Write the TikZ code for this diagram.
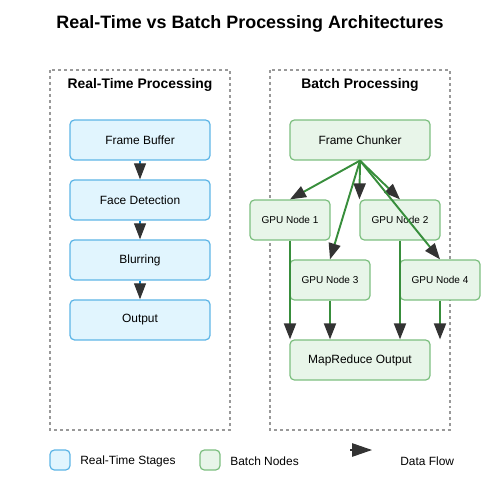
\documentclass[tikz,border=0pt]{standalone}
\usepackage{fontspec}
\setmainfont{Liberation Sans}
\usepackage{xcolor}
\usetikzlibrary{arrows.meta,positioning}
\definecolor{rtfill}{HTML}{E1F5FE}
\definecolor{rtdraw}{HTML}{5DB5E6}
\definecolor{bfill}{HTML}{E8F5E9}
\definecolor{bdraw}{HTML}{7DBF80}
\definecolor{flowgreen}{HTML}{388E3C}
\definecolor{flowblue}{HTML}{0288D1}
\definecolor{tipgray}{HTML}{333333}
\definecolor{framegray}{HTML}{999999}

\begin{document}
\begin{tikzpicture}[x=0.02cm, y=-0.02cm,
    frame/.style={draw=framegray, line width=0.8pt, dash pattern=on 1.7pt off 1.7pt},
    stage/.style={rectangle, draw=rtdraw, fill=rtfill, line width=0.7pt, rounded corners=2.5pt, minimum width=2.8cm, minimum height=0.8cm, font=\fontsize{6.8}{8}\selectfont},
    batch/.style={rectangle, draw=bdraw, fill=bfill, line width=0.7pt, rounded corners=2.5pt, minimum width=2.8cm, minimum height=0.8cm, font=\fontsize{6.8}{8}\selectfont},
    gpu/.style={batch, minimum width=1.6cm, font=\fontsize{5.7}{7}\selectfont},
    rtarrow/.style={draw=flowblue, line width=0.6pt, -{Triangle[length=0.32cm, width=0.24cm, color=tipgray]}},
    arrow/.style={draw=flowgreen, line width=1.1pt, -{Triangle[length=0.32cm, width=0.24cm, color=tipgray]}},
    heading/.style={font=\fontsize{7.9}{9.5}\selectfont\bfseries},
    legend/.style={anchor=west, inner sep=0pt, font=\fontsize{6.8}{8}\selectfont}]

    \useasboundingbox (0,0) rectangle (500,500);

    % Title
    \node[font=\fontsize{10.2}{12}\selectfont\bfseries] (title) at (250,24) {Real-Time vs Batch Processing Architectures};

    % Containers
    \draw[frame] (50,70) rectangle (230,430);
    \draw[frame] (270,70) rectangle (450,430);
    \node[heading] (rthead) at (140,85) {Real-Time Processing};
    \node[heading] (bhead) at (360,85) {Batch Processing};

    % Real-time pipeline
    \node[stage] (buffer) at (140,140) {Frame Buffer};
    \node[stage, below=0.375cm of buffer] (detect) {Face Detection};
    \node[stage, below=0.375cm of detect] (blur) {Blurring};
    \node[stage, below=0.375cm of blur] (output) {Output};

    \draw[rtarrow] (buffer) -- (detect);
    \draw[rtarrow] (detect) -- (blur);
    \draw[rtarrow] (blur) -- (output);

    % Batch pipeline
    \node[batch] (chunker) at (360,140) {Frame Chunker};
    \node[gpu] (gpu1) at (290,220) {GPU Node 1};
    \node[gpu] (gpu2) at (400,220) {GPU Node 2};
    \node[gpu] (gpu3) at (330,280) {GPU Node 3};
    \node[gpu] (gpu4) at (440,280) {GPU Node 4};
    \node[batch] (mapred) at (360,360) {MapReduce Output};

    \draw[arrow] (chunker.south) -- (gpu1.north);
    \draw[arrow] (chunker.south) -- (gpu2.north west);
    \draw[arrow] (chunker.south) -- (gpu2.north);
    \draw[arrow] (chunker.south) -- (gpu3.north);
    \draw[arrow] (chunker.south) -- (gpu4.north);

    \draw[arrow] (gpu1.south) -- (gpu1.south |- mapred.north);
    \draw[arrow] (gpu3.south) -- (gpu3.south |- mapred.north);
    \draw[arrow] (gpu2.south) -- (gpu2.south |- mapred.north);
    \coordinate (gpu4end) at (gpu4.south |- mapred.north);
    \draw[arrow] (gpu4.south) -- (gpu4end);

    % Legend
    \node[stage, minimum width=0.4cm, minimum height=0.4cm] (keyrt) at (60,460) {};
    \node[legend] (keyrttext) at (80,461) {Real-Time Stages};
    \node[batch, minimum width=0.4cm, minimum height=0.4cm] (keyb) at (210,460) {};
    \node[legend] (keybtext) at (230,461) {Batch Nodes};
    \coordinate (keyflowa) at (350,450);
    \coordinate (keyflowb) at (372,450);
    \draw[draw=tipgray, line width=0.6pt, -{Triangle[length=0.4cm, width=0.27cm, color=tipgray]}] (keyflowa) -- (keyflowb);
    \node[legend] (keyflowtext) at (400,461) {Data Flow};

\end{tikzpicture}
\end{document}
